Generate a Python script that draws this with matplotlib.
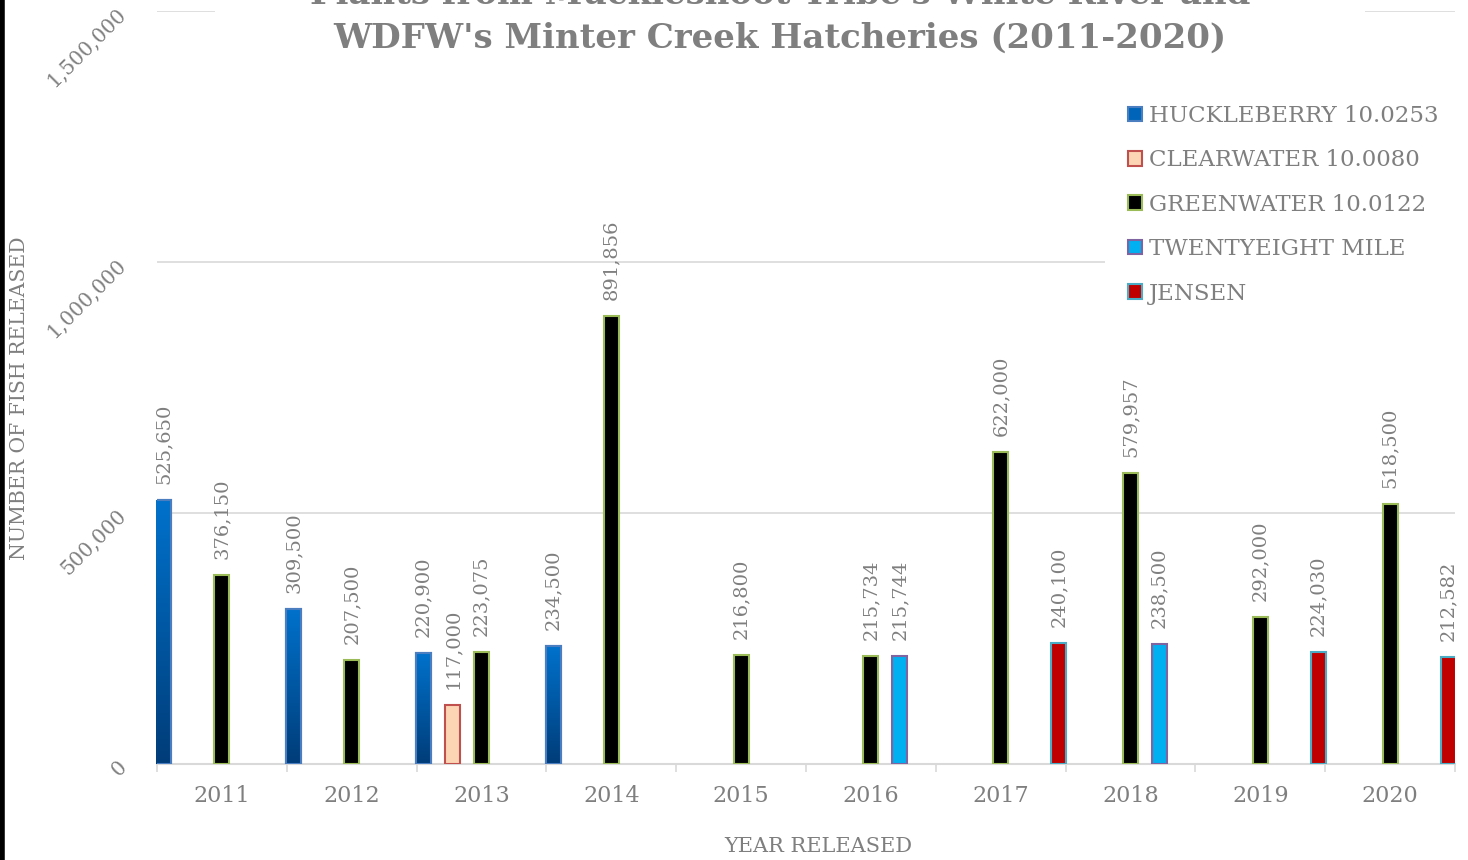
import matplotlib.pyplot as plt
import numpy as np
from matplotlib.ticker import FixedLocator, FuncFormatter
from matplotlib.colors import LinearSegmentedColormap
from matplotlib.patches import Rectangle

plt.rcParams['font.family'] = ['DejaVu Serif']

years = ['2011', '2012', '2013', '2014', '2015', '2016', '2017', '2018', '2019', '2020']
series_names = ['HUCKLEBERRY 10.0253', 'CLEARWATER 10.0080', 'GREENWATER 10.0122',
                'TWENTYEIGHT MILE', 'JENSEN']

huckleberry = [525650, 309500, 220900, 234500, None, None, None, None, None, None]
clearwater = [None, None, 117000, None, None, None, None, None, None, None]
greenwater = [376150, 207500, 223075, 891856, 216800, 215734, 622000, 579957, 292000, 518500]
twentyeight = [None, None, None, None, None, 215744, None, 238500, None, None]
jensen = [None, None, None, None, None, None, 240100, None, 224030, 212582]

faces = ['#0065B8', '#FCD5B5', '#000000', '#00B0F0', '#C00000']
edges = ['#4A7EC0', '#C0504D', '#9BBB59', '#8064A2', '#4BACC6']
gray = '#7F7F7F'

fig = plt.figure(figsize=(14.68, 8.6), dpi=100)
ax = fig.add_axes([157 / 1468, 1 - 764 / 860, 1298 / 1468, 753 / 860])

step = 29 / 129.8
width = 15 / 129.8
all_series = [huckleberry, clearwater, greenwater, twentyeight, jensen]

grad = np.linspace(0, 1, 256).reshape(-1, 1)
blue_cmap = LinearSegmentedColormap.from_list('bl', ['#003C78', '#0072CC'])

for i, (vals, name) in enumerate(zip(all_series, series_names)):
    idx = [k for k, v in enumerate(vals) if v is not None]
    xs = np.array(idx) + (i - 2) * step
    hs = [vals[k] for k in idx]
    bars = ax.bar(xs, hs, width=width, color=faces[i], edgecolor=edges[i],
                  linewidth=1.5, label=name, zorder=3)
    for b, h in zip(bars, hs):
        if i == 0:
            # gradient fill for the Huckleberry bars
            x0 = b.get_x()
            im = ax.imshow(grad, cmap=blue_cmap, aspect='auto', origin='lower',
                           extent=(x0, x0 + width, 0, h), zorder=3)
            im.set_clip_path(b)
            ax.bar(b.get_x() + width / 2, h, width=width, facecolor='none',
                   edgecolor=edges[i], linewidth=1.5, zorder=4)
        ax.annotate(f'{h:,}', (b.get_x() + width / 2, h), xytext=(0, 16),
                    textcoords='offset pixels', rotation=90, ha='center',
                    va='bottom', fontsize=14, color=gray, zorder=5)

ax.set_xlim(-0.5, 9.5)
ax.set_ylim(0, 1500000)
ax.set_xticks(range(len(years)))
ax.set_xticklabels(years)
ax.xaxis.set_minor_locator(FixedLocator(np.arange(-0.5, 10, 1)))
ax.tick_params(axis='x', which='major', length=0, pad=15, labelsize=16, labelcolor=gray)
ax.tick_params(axis='x', which='minor', length=6, width=1.2, color='#D9D9D9')

ax.set_yticks([0, 500000, 1000000, 1500000])
ax.yaxis.set_major_formatter(FuncFormatter(lambda v, p: f'{int(v):,}'))
ax.tick_params(axis='y', length=0, pad=24, labelsize=14.5, labelcolor=gray)
for lab in ax.get_yticklabels():
    lab.set_rotation(45)
    lab.set_rotation_mode('anchor')
    lab.set_ha('right')
    lab.set_va('center')

ax.grid(axis='y', color='#D9D9D9', linewidth=1.2, zorder=0)
ax.set_axisbelow(True)
for s in ['top', 'right', 'left']:
    ax.spines[s].set_visible(False)
ax.spines['bottom'].set_color('#D9D9D9')
ax.spines['bottom'].set_linewidth(1.5)

leg = ax.legend(loc='upper left', bbox_to_anchor=(1105 / 1468, 1 - 320 / 860, 363 / 1468, 238 / 860),
                bbox_transform=fig.transFigure, borderaxespad=0, frameon=True, mode='expand',
                fontsize=16.5, handlelength=0.6, handleheight=0.6,
                handletextpad=0.3, labelspacing=0.98, borderpad=1.0)
leg.get_frame().set_facecolor('white')
leg.get_frame().set_edgecolor('none')
leg.get_frame().set_alpha(1)
for t in leg.get_texts():
    t.set_color(gray)

# white title area hiding the top gridline
fig.add_artist(Rectangle((215 / 1468, 1 - 20 / 860), 1150 / 1468, 20 / 860,
                         transform=fig.transFigure, facecolor='white',
                         edgecolor='none', zorder=2))
fig.text(780 / 1468, 1 - (-6) / 860, "Plants from Muckleshoot Tribe's White River and",
         ha='center', va='center', fontsize=24.5, fontweight='bold', color=gray, zorder=3)
fig.text(780 / 1468, 1 - 38 / 860, "WDFW's Minter Creek Hatcheries (2011-2020)",
         ha='center', va='center', fontsize=24.5, fontweight='bold', color=gray, zorder=3)

fig.text(20 / 1468, 1 - 398 / 860, 'NUMBER OF FISH RELEASED', rotation=90,
         ha='center', va='center', fontsize=14.7, color=gray)
fig.text(818 / 1468, 1 - 846 / 860, 'YEAR RELEASED', ha='center', va='center',
         fontsize=15, color=gray)

fig.add_artist(plt.Line2D([0.0015, 0.0015], [0, 1], color='black', linewidth=4,
                          transform=fig.transFigure))

plt.savefig('out.png', dpi=100)
